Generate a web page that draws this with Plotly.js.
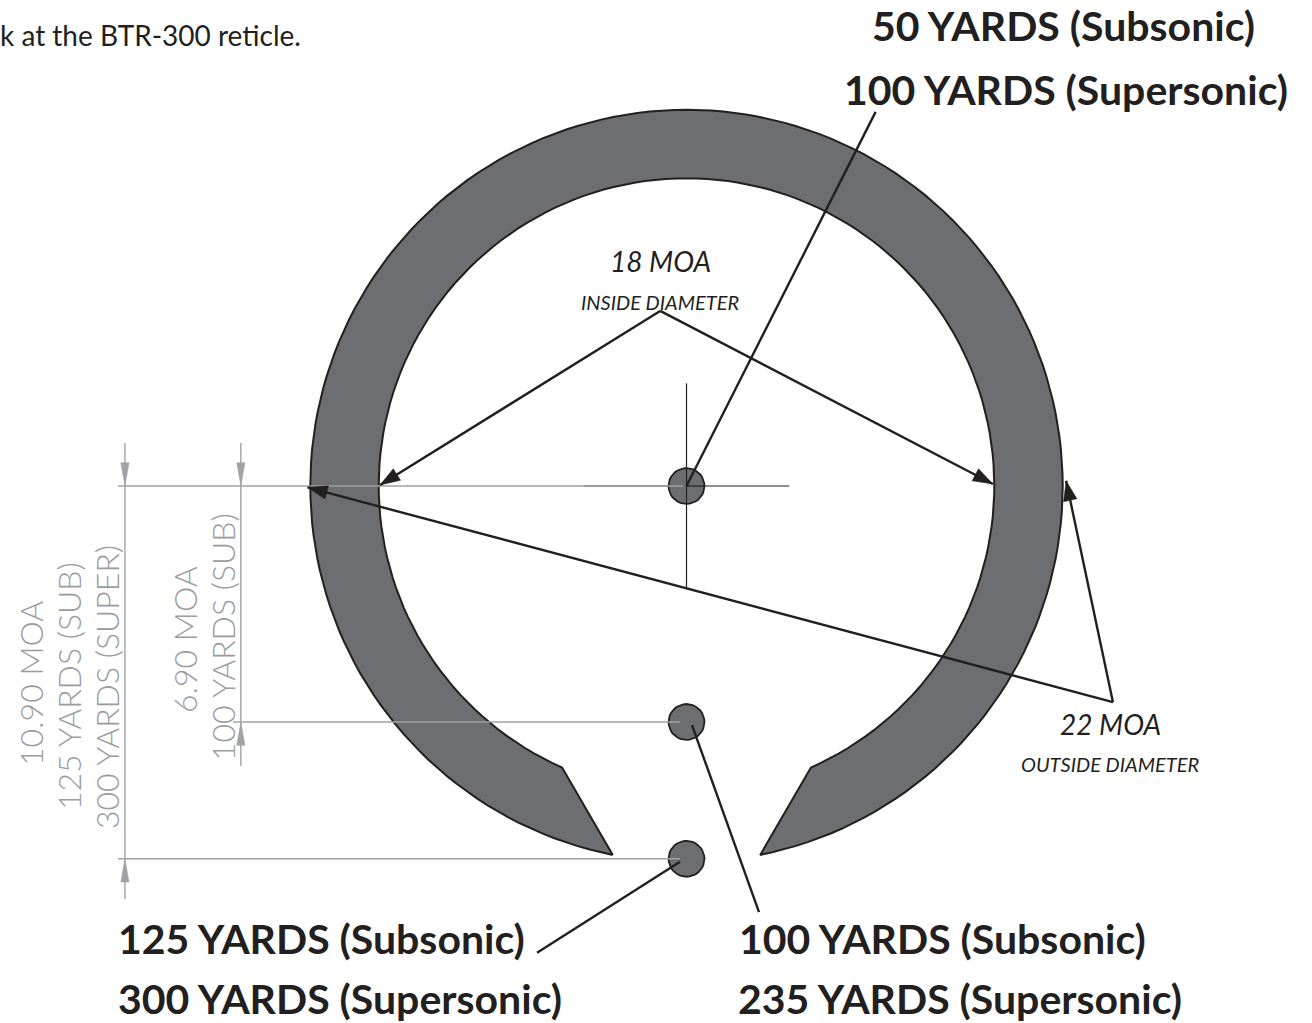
<!DOCTYPE html>
<html><head><meta charset="utf-8">
<script src="https://cdn.plot.ly/plotly-3.0.1.min.js"></script>
<style>html,body{margin:0;padding:0;background:#fff;overflow:hidden}#c{width:1312px;height:1023px}</style>
</head><body><div id="c"></div>
<script>
// Reticle geometry, in minutes of angle (MOA), centred on the aim point
const ringOuterDiameter = 22;
const ringInnerDiameter = 18;
const dotDiameter = 1.05;
const holdovers = [0, -6.9, -10.9];
const crosshairArm = 3;
const gapOuterDeg = 11.3;
const gapInnerDeg = 23.85;

// Dimension lines (MOA)
const dimHorizontalStart = [-16.62, -13.26, -16.62];
const dimHorizontalEnd = [-0.1, -0.19, -0.19];
const dimVerticalX = [-16.42, -13.03];
const dimVerticalTop = [1.26, 1.26];
const dimVerticalBottom = [-12.08, -8.19];
const dimVerticalTips = [[0, -10.9], [0, -6.9]];

// Leader lines (MOA)
const leaderTailX = [5.53, 2.12, -4.37];
const leaderTailY = [10.94, -12.46, -13.65];
const leaderHeadX = [0, 0.16, -0.19];
const leaderHeadY = [0, -6.99, -10.99];
const insideApex = [-0.77, 5.12];
const insideTips = [[-8.96, 0.03], [8.96, 0.06]];
const outsideApex = [12.47, -6.32];
const outsideTips = [[-11.08, -0.04], [11.1, 0.15]];

// Text
const introText = 'k at the BTR-300 reticle.';
const boldLabels = ['50 YARDS (Subsonic)', '100 YARDS (Supersonic)', '125 YARDS (Subsonic)', '300 YARDS (Supersonic)', '100 YARDS (Subsonic)', '235 YARDS (Supersonic)'];
const italicLabels = ['18 MOA', 'INSIDE DIAMETER', '22 MOA', 'OUTSIDE DIAMETER'];
const greyLabels = ['10.90 MOA', '125 YARDS (SUB)', '300 YARDS (SUPER)', '6.90 MOA', '100 YARDS (SUB)'];

const W = 1312, H = 1023, S = 34.2, CX = 686.5, CY = 486;
const INK = '#231f20', FILL = '#6d6e71', GREY = '#a0a2a5';
const traces = [];
const line = (xs, ys, color, width) => traces.push({type:'scatter', mode:'lines', x:xs, y:ys, line:{color, width, simplify:false}, hoverinfo:'skip', showlegend:false});
const poly = (xs, ys, fill, lc, lw) => traces.push({type:'scatter', mode:'lines', x:xs, y:ys, fill:'toself', fillcolor:fill, line:{color:lc, width:lw}, hoverinfo:'skip', showlegend:false});
const arc = (r, a0, a1, n) => { // angles measured from straight down, clockwise on screen
  const p = [];
  for (let i = 0; i <= n; i++) { const a = (a0 + (a1 - a0) * i / n) * Math.PI / 180; p.push([-Math.sin(a) * r, -Math.cos(a) * r]); }
  return p;
};
const head = (tip, from, len, half, color) => {
  const dx = from[0] - tip[0], dy = from[1] - tip[1], d = Math.hypot(dx, dy), ux = dx / d, uy = dy / d;
  const bx = tip[0] + ux * len, by = tip[1] + uy * len;
  poly([tip[0], bx - uy * half, bx + uy * half, tip[0]], [tip[1], by + ux * half, by - ux * half, tip[1]], color, color, 0.5);
};

// Ring
const rO = ringOuterDiameter / 2, rI = ringInnerDiameter / 2;
const ring = arc(rO, gapOuterDeg, 360 - gapOuterDeg, 180).concat(arc(rI, 360 - gapInnerDeg, gapInnerDeg, 160));
ring.push(ring[0]);
poly(ring.map(p => p[0]), ring.map(p => p[1]), FILL, INK, 2);

// Crosshair
line([-crosshairArm, crosshairArm], [0, 0], INK, 1.2);
line([0, 0], [crosshairArm, -crosshairArm], INK, 1.2);

// Dots
holdovers.forEach(h => {
  const c = arc(dotDiameter / 2, 0, 360, 36);
  poly(c.map(p => p[0]), c.map(p => p[1] + h), FILL, INK, 1.8);
});
line([0, 0], [0.53, -0.53], INK, 1.2);
line([0, 0.53], [0, 0], INK, 1.2);

// Grey dimension lines
holdovers.forEach((h, i) => line([dimHorizontalStart[i], dimHorizontalEnd[i]], [h, h], GREY, 1.4));
dimVerticalX.forEach((x, i) => {
  line([x, x], [dimVerticalTop[i], dimVerticalBottom[i]], GREY, 1.4);
  head([x, dimVerticalTips[i][0]], [x, dimVerticalTop[i]], 0.68, 0.12, GREY);
  head([x, dimVerticalTips[i][1]], [x, dimVerticalBottom[i]], 0.68, 0.12, GREY);
});

// Leaders
leaderTailX.forEach((x, i) => line([x, leaderHeadX[i]], [leaderTailY[i], leaderHeadY[i]], INK, 2.4));
[[insideApex, insideTips], [outsideApex, outsideTips]].forEach(([apex, tips]) => {
  tips.forEach(t => {
    line([apex[0], t[0]], [apex[1], t[1]], INK, 2.4);
    head(t, apex, 0.58, 0.2, INK);
  });
});

// Text, placed on the page
const txt = (text, px, py, font, extra) => Object.assign({
  text, xref:'paper', yref:'paper', x:px / W, y:1 - py / H, xanchor:'center', yanchor:'middle', showarrow:false, borderpad:0, borderwidth:0, font
}, extra || {});
const BOLD = {family:'Lato, sans-serif', size:41, color:INK, weight:700};
const ITAL = s => ({family:'Lato, sans-serif', size:s, color:INK, style:'italic'});
const GREYF = {family:'Lato, sans-serif', size:32, color:'#9a9c9f', weight:300};
const boldPos = [[1063, 26], [1066, 89], [321, 938], [340, 998], [942, 938], [960, 998]];
const italPos = [[660, 261, 28], [660, 302, 20], [1110, 724, 28], [1110, 764, 20]];
const greyPos = [[30, 684], [68, 686], [106, 687], [184, 640], [222, 637]];
const annotations = [txt(introText, 0, 35, {family:'Lato, sans-serif', size:28, color:INK}, {xanchor:'left'})];
boldLabels.forEach((t, i) => annotations.push(txt(t, boldPos[i][0], boldPos[i][1], BOLD)));
italicLabels.forEach((t, i) => annotations.push(txt(t, italPos[i][0], italPos[i][1], ITAL(italPos[i][2]))));
greyLabels.forEach((t, i) => annotations.push(txt(t, greyPos[i][0], greyPos[i][1], GREYF, {textangle:-90})));

const hidden = {visible:false, showgrid:false, zeroline:false, fixedrange:true};
const layout = {
  width:W, height:H, margin:{l:0, r:0, t:0, b:0}, paper_bgcolor:'#fff', plot_bgcolor:'#fff', showlegend:false,
  xaxis:Object.assign({range:[-CX / S, (W - CX) / S]}, hidden),
  yaxis:Object.assign({range:[-(H - CY) / S, CY / S]}, hidden),
  annotations
};
Plotly.newPlot('c', traces, layout, {staticPlot:true, displayModeBar:false});
</script></body></html>
